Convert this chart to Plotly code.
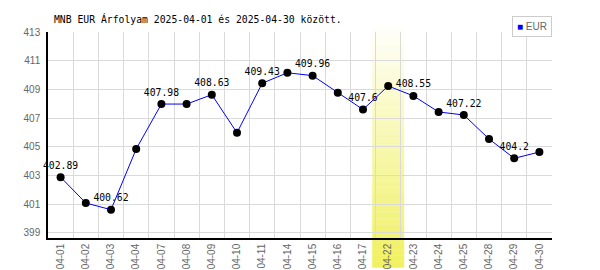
import plotly.graph_objects as go

dates = ["04-01", "04-02", "04-03", "04-04", "04-07", "04-08", "04-09", "04-10",
         "04-11", "04-14", "04-15", "04-16", "04-17", "04-22", "04-23", "04-24",
         "04-25", "04-28", "04-29", "04-30"]
eur = [402.89, 401.09, 400.62, 404.85, 407.98, 407.98, 408.63, 405.98,
       409.43, 410.16, 409.96, 408.77, 407.60, 409.24, 408.55, 407.43,
       407.22, 405.55, 404.20, 404.64]
labels = ["402.89", "", "400.62", "", "407.98", "", "408.63", "",
          "409.43", "", "409.96", "", "407.6", "", "408.55", "",
          "407.22", "", "404.2", ""]
y_ticks = [399, 401, 403, 405, 407, 409, 411, 413]
highlight = "04-22"

MONO = "DejaVu Sans Mono"
SANS = "Liberation Sans, Arial"

fig = go.Figure()
fig.add_trace(go.Scatter(
    x=list(range(len(dates))), y=eur, mode="lines+markers+text",
    line=dict(color="#0000ff", width=1),
    marker=dict(color="#000000", size=8),
    text=labels, textposition="top center",
    textfont=dict(family=MONO, size=9.75, color="#000000"),
    showlegend=False, cliponaxis=False,
))

# highlight band with vertical gradient
hl = dates.index(highlight)
n = 40
y_top, y_bot = 1.05, -0.145
c0 = (255, 255, 255)
c1 = (240, 240, 96)
shapes = []
for i in range(n):
    t = (i + 0.5) / n
    col = tuple(round(c0[k] + (c1[k] - c0[k]) * t) for k in range(3))
    ya = y_top + (y_bot - y_top) * i / n
    yb = y_top + (y_bot - y_top) * (i + 1) / n
    shapes.append(dict(type="rect", xref="x", yref="paper",
                       x0=hl - 0.635, x1=hl + 0.635, y0=yb, y1=ya + 0.001,
                       fillcolor="rgb(%d,%d,%d)" % col, line=dict(width=0),
                       layer="between"))

fig.update_layout(
    width=600, height=270,
    margin=dict(l=48, r=48, t=32, b=32),
    paper_bgcolor="white", plot_bgcolor="white",
    shapes=shapes,
    title=dict(text="MNB EUR Árfolyam 2025-04-01 és 2025-04-30 között.",
               font=dict(family=MONO, size=9.75, color="#000000"),
               x=0.09, xanchor="left", xref="container",
               y=0.928, yanchor="middle", yref="container"),
    xaxis=dict(
        tickmode="array", tickvals=list(range(len(dates))), ticktext=dates,
        range=[-0.5, len(dates) - 0.5], tickangle=-90,
        tickfont=dict(family=SANS, size=10, color="#666666"),
        showgrid=False, showline=True, linecolor="#000000", linewidth=1.5,
        ticks="", zeroline=False, ticklabelstandoff=0, automargin=False,
    ),
    xaxis2=dict(overlaying="x", range=[-0.5, len(dates) - 0.5],
                tickmode="linear", tick0=-0.5, dtick=1, showticklabels=False,
                showgrid=True, gridcolor="#dadada", gridwidth=1, ticks="",
                zeroline=False, showline=False, automargin=False),
    yaxis=dict(
        range=[398.65, 413], tickmode="array", tickvals=y_ticks,
        tickfont=dict(family=SANS, size=10, color="#666666"),
        showgrid=True, gridcolor="#dadada", gridwidth=1,
        showline=True, linecolor="#000000", linewidth=1.5,
        ticks="", zeroline=False, ticklabelstandoff=4, automargin=False,
    ),
    annotations=[dict(
        text="<span style='color:#0000ff'>■</span> EUR",
        xref="paper", yref="paper", x=1.0, y=1.078,
        xanchor="right", yanchor="top", showarrow=False,
        font=dict(family=SANS, size=10, color="#666666"),
        bordercolor="#cccccc", borderwidth=1, borderpad=4, bgcolor="white",
    )],
)
# invisible helper trace so the boundary grid axis is drawn
fig.add_trace(go.Scatter(x=[None], y=[None], xaxis="x2", showlegend=False,
                         hoverinfo="skip"))
fig.write_html("out.html")
